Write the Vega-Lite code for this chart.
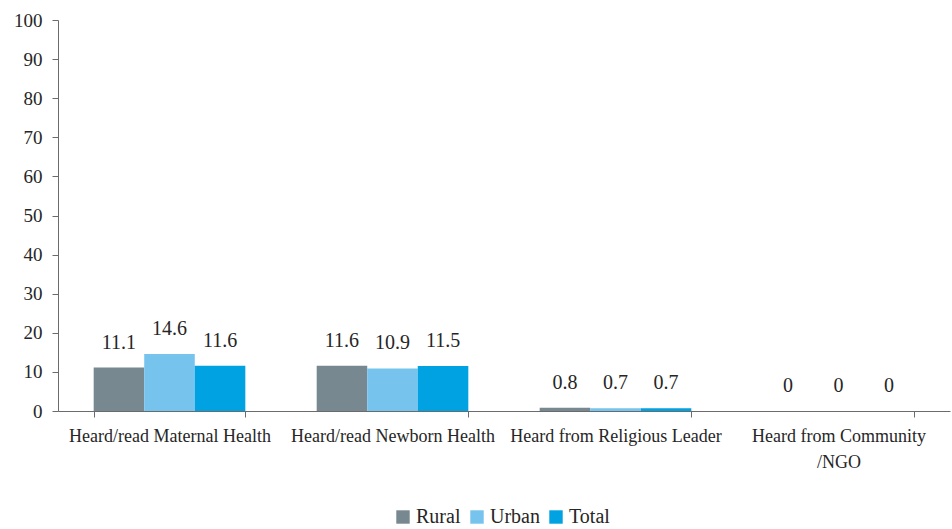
{
  "$schema": "https://vega.github.io/schema/vega-lite/v6.json",
  "width": 892,
  "height": 391,
  "autosize": "none",
  "padding": {"left": 58, "top": 20, "right": 2, "bottom": 118},
  "background": "white",
  "config": {
    "view": {"stroke": null},
    "font": "Liberation Serif",
    "text": {"font": "serif"},
    "legend": {"labelFont": "serif"},
    "axis": {"grid": false, "domainColor": "#6b6b6b", "tickColor": "#6b6b6b", "labelColor": "#262626", "labelFont": "Liberation Serif"},
    "axisY": {"tickCount": 10, "labelOverlap": false}
  },
  "data": {
    "values": [
      {"category": "Heard/read Maternal Health", "group": "Rural", "value": 11.1},
      {"category": "Heard/read Maternal Health", "group": "Urban", "value": 14.6},
      {"category": "Heard/read Maternal Health", "group": "Total", "value": 11.6},
      {"category": "Heard/read Newborn Health", "group": "Rural", "value": 11.6},
      {"category": "Heard/read Newborn Health", "group": "Urban", "value": 10.9},
      {"category": "Heard/read Newborn Health", "group": "Total", "value": 11.5},
      {"category": "Heard from Religious Leader", "group": "Rural", "value": 0.8},
      {"category": "Heard from Religious Leader", "group": "Urban", "value": 0.7},
      {"category": "Heard from Religious Leader", "group": "Total", "value": 0.7},
      {"category": "Heard from Community /NGO", "group": "Rural", "value": 0},
      {"category": "Heard from Community /NGO", "group": "Urban", "value": 0},
      {"category": "Heard from Community /NGO", "group": "Total", "value": 0}
    ]
  },
  "encoding": {
    "x": {
      "field": "category", "type": "nominal", "sort": null,
      "scale": {"paddingInner": 0.32, "paddingOuter": 0.16},
      "axis": {
        "title": null, "labelAngle": 0, "labelFontSize": 18, "labelFont": "Liberation Serif", "tickBand": "extent",
        "tickSize": 6, "labelPadding": 10, "labelLimit": 300, "labelLineHeight": 26,
        "labelExpr": "datum.label == 'Heard from Community /NGO' ? ['Heard from Community', '/NGO'] : datum.label"
      }
    },
    "xOffset": {"field": "group", "type": "nominal", "sort": ["Rural", "Urban", "Total"]},
    "y": {
      "field": "value", "type": "quantitative",
      "scale": {"domain": [0, 100], "nice": false},
      "axis": {"title": null, "tickCount": 10, "labelOverlap": false, "labelFont": "serif", "labelFontSize": 19, "tickSize": 6, "labelPadding": 10}
    }
  },
  "layer": [
    {
      "mark": {"type": "bar"},
      "encoding": {
        "color": {
          "field": "group", "type": "nominal", "sort": ["Rural", "Urban", "Total"],
          "scale": {"domain": ["Rural", "Urban", "Total"], "range": ["#778891", "#76c3ee", "#00a2e2"]},
          "legend": {
            "title": null, "orient": "none", "direction": "horizontal", "legendX": 335, "legendY": 487,
            "symbolType": "square", "symbolSize": 180, "symbolStrokeWidth": 0, "labelFont": "serif", "labelFontSize": 20,
            "labelColor": "#262626", "columnPadding": 6, "labelOffset": 3
          }
        }
      }
    },
    {
      "mark": {"type": "text", "font": "serif", "fontSize": 20, "color": "#262626", "baseline": "middle", "dy": -25},
      "encoding": {
        "text": {"field": "value", "type": "quantitative"}
      }
    }
  ]
}
